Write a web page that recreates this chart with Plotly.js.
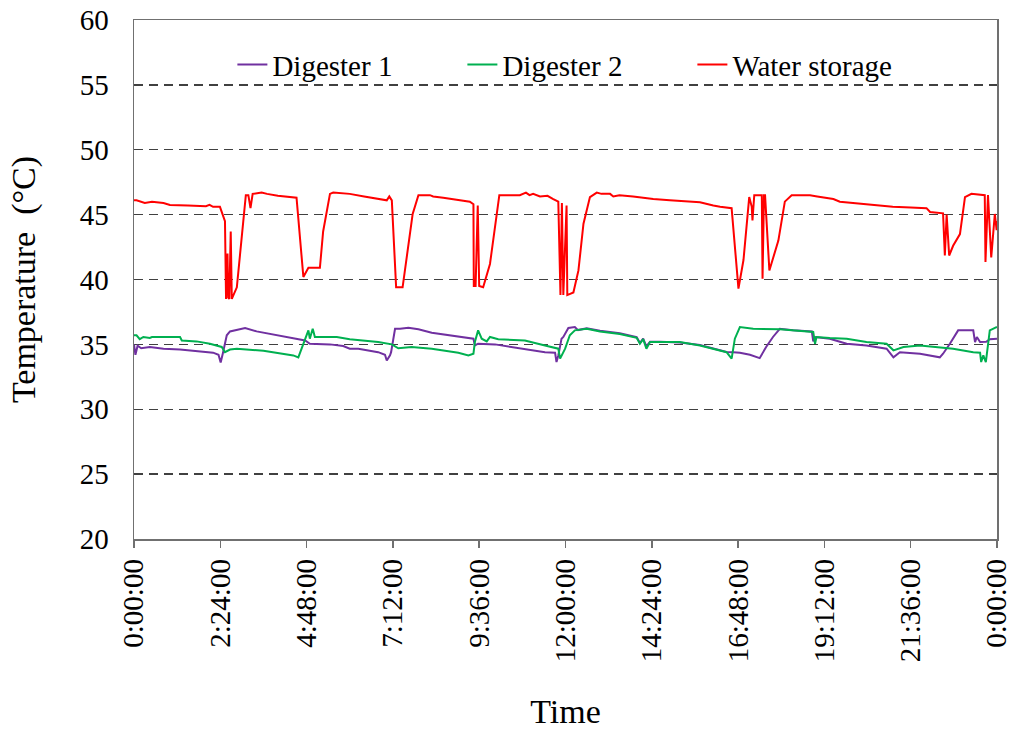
<!DOCTYPE html>
<html>
<head>
<meta charset="utf-8">
<script src="https://cdn.plot.ly/plotly-3.0.1.min.js"></script>
<style>html,body{margin:0;padding:0;background:#fff;}#chart{width:1012px;height:734px;}</style>
</head>
<body>
<div id="chart"></div>
<script>
// Time in hours since 0:00:00
var waterHours = [0,0.07,0.3,0.5,0.82,1.0,1.5,2.0,2.1,2.2,2.39,2.53,2.56,2.6,2.62,2.65,2.69,2.72,2.86,3.11,3.18,3.24,3.3,3.55,3.7,4.0,4.52,4.71,4.85,5.17,5.26,5.45,5.54,6.0,6.4,6.8,7.03,7.1,7.17,7.29,7.47,7.75,7.91,8.23,8.32,8.6,9.0,9.34,9.44,9.45,9.5,9.56,9.6,9.71,9.9,10.04,10.16,10.73,10.9,11.0,11.1,11.29,11.5,11.66,11.8,11.86,11.9,11.94,12.03,12.05,12.22,12.36,12.5,12.68,12.87,13.0,13.24,13.33,13.5,13.88,14.44,14.9,15.37,15.74,16.11,16.3,16.62,16.81,16.95,17.11,17.18,17.2,17.25,17.46,17.48,17.52,17.55,17.67,17.92,18.1,18.29,18.8,19.0,19.45,19.63,20.0,20.37,20.65,21.1,21.6,22.04,22.14,22.5,22.55,22.6,22.67,22.78,22.97,23.11,23.29,23.66,23.68,23.75,23.84,23.94,23.99,24];
var waterTemp  = [46.1,46.1,45.9,46.0,45.9,45.75,45.7,45.65,45.75,45.6,45.6,44.5,38.5,42.0,38.6,38.5,43.7,38.5,39.4,46.5,46.5,45.5,46.6,46.7,46.6,46.45,46.3,40.2,40.9,40.9,43.7,46.6,46.7,46.6,46.4,46.2,46.1,46.4,46.1,39.4,39.4,45.05,46.5,46.5,46.4,46.3,46.15,46.0,45.8,39.5,39.5,45.7,39.5,39.4,41.2,44.3,46.5,46.5,46.7,46.5,46.6,46.4,46.45,46.2,46.0,38.8,45.9,38.8,45.7,38.8,39.0,40.7,44.3,46.35,46.7,46.6,46.6,46.4,46.5,46.4,46.2,46.1,46.0,45.95,45.7,45.6,45.5,39.3,41.5,46.35,45.6,44.55,46.5,46.5,40.05,46.5,46.5,40.7,43.0,46.0,46.5,46.5,46.4,46.2,46.0,45.9,45.8,45.7,45.6,45.55,45.5,45.2,45.1,41.85,45.0,41.85,42.6,43.5,46.35,46.6,46.5,41.35,46.5,41.7,45.05,43.8,44.5];

var d1Hours = [0,0.04,0.1,0.2,0.44,0.82,1.28,1.74,2.2,2.35,2.41,2.47,2.58,2.67,2.95,3.09,3.41,3.78,4.15,4.62,4.76,4.89,5.45,5.82,6.0,6.24,6.79,6.98,7.03,7.12,7.15,7.26,7.4,7.63,7.91,8.28,8.65,9.02,9.3,9.44,9.48,9.57,10.04,10.5,10.87,11.43,11.71,11.75,11.8,11.89,11.94,12.08,12.26,12.35,12.59,12.96,13.51,13.98,14.07,14.16,14.25,14.35,14.63,15.18,15.74,16.3,16.48,16.67,16.85,17.13,17.4,17.58,17.77,17.96,18.33,18.85,18.89,18.94,19.35,19.82,20.37,20.93,21.12,21.3,21.86,22.41,22.5,22.69,22.92,23.34,23.39,23.44,23.53,23.7,23.8,24];
var d1Temp  = [35.0,34.2,34.9,34.7,34.8,34.67,34.6,34.5,34.36,34.2,33.6,34.3,35.7,36.0,36.16,36.26,36.0,35.8,35.64,35.4,35.3,35.05,35.0,34.87,34.67,34.67,34.4,34.2,33.76,34.15,34.4,36.2,36.2,36.29,36.16,35.9,35.75,35.57,35.44,35.44,34.92,35.05,35.0,34.8,34.67,34.4,34.36,33.64,34.15,35.44,35.57,36.26,36.34,36.1,36.25,36.05,35.85,35.55,35.1,35.45,34.85,35.2,35.2,35.15,34.95,34.56,34.42,34.4,34.36,34.2,33.94,34.8,35.57,36.2,36.08,36.0,35.23,35.57,35.44,35.05,34.92,34.67,34.0,34.4,34.28,34.0,34.28,35.05,36.08,36.08,35.18,35.57,35.18,35.2,35.4,35.44];

var d2Hours = [0,0.07,0.16,0.26,0.44,0.5,1.28,1.33,1.74,2.11,2.44,2.53,2.67,2.86,3.6,4.43,4.57,4.62,4.76,4.85,4.89,4.97,5.03,5.64,6.0,6.42,6.79,7.17,7.35,7.72,8.28,9.02,9.3,9.44,9.48,9.57,9.67,9.81,9.9,10.13,10.87,11.43,11.8,11.85,11.99,12.12,12.26,12.59,12.96,13.51,13.98,14.07,14.16,14.25,14.35,14.63,15.18,15.74,16.3,16.48,16.62,16.71,16.85,17.22,17.96,18.89,18.94,18.98,19.35,19.82,20.37,20.93,21.12,21.4,21.86,22.41,22.78,23.34,23.53,23.56,23.62,23.69,23.76,23.8,24];
var d2Temp  = [35.7,35.7,35.4,35.57,35.5,35.57,35.57,35.3,35.23,35.05,34.8,34.4,34.6,34.67,34.5,34.15,34.0,34.4,35.4,36.08,35.44,36.2,35.57,35.57,35.4,35.3,35.18,35.0,34.7,34.8,34.67,34.36,34.15,34.28,35.18,36.08,35.44,35.23,35.57,35.4,35.3,34.92,34.67,33.9,34.67,35.7,36.08,36.2,36.0,35.8,35.5,35.05,35.4,34.67,35.18,35.18,35.18,34.92,34.54,34.4,33.9,35.44,36.34,36.2,36.16,35.95,35.05,35.57,35.5,35.44,35.18,35.05,34.54,34.8,34.92,34.8,34.67,34.4,34.36,33.64,34.15,33.64,35.18,36.08,36.34];

var tickHours  = [0,2.4,4.8,7.2,9.6,12,14.4,16.8,19.2,21.6,24];
var tickLabels = ["0:00:00","2:24:00","4:48:00","7:12:00","9:36:00","12:00:00","14:24:00","16:48:00","19:12:00","21:36:00","0:00:00"];
var yTicks = [20,25,30,35,40,45,50,55,60];

var serif = "Liberation Serif, Times New Roman, serif";

var traces = [
  {x: d1Hours, y: d1Temp, name: "Digester 1", mode: "lines", line: {color: "#7030A0", width: 2}},
  {x: d2Hours, y: d2Temp, name: "Digester 2", mode: "lines", line: {color: "#00B050", width: 2}},
  {x: waterHours, y: waterTemp, name: "Water storage", mode: "lines", line: {color: "#FF0000", width: 2}}
];

var layout = {
  width: 1012, height: 734,
  margin: {l: 134, r: 15, t: 20, b: 195},
  paper_bgcolor: "#fff", plot_bgcolor: "#fff",
  font: {family: serif, color: "#000", size: 29},
  showlegend: true,
  legend: {
    orientation: "h", x: 0.114, xanchor: "left", y: 0.914, yanchor: "middle",
    font: {family: serif, size: 29, color: "#000"},
    bgcolor: "rgba(0,0,0,0)", entrywidth: 185, entrywidthmode: "pixels",
    traceorder: "normal"
  },
  xaxis: {
    range: [0, 24.0005], tickmode: "array", tickvals: tickHours, ticktext: tickLabels,
    tickangle: -90, ticks: "outside", ticklen: 7, tickwidth: 1.5, tickcolor: "#707070",
    showline: true, linecolor: "#707070", linewidth: 1.5, mirror: true,
    showgrid: false, zeroline: false, ticklabeloverflow: "allow",
    tickfont: {family: serif, size: 29, color: "#000"},
    title: {text: "Time", font: {family: serif, size: 34, color: "#000"}, standoff: 38},
    automargin: false
  },
  yaxis: {
    range: [20, 60], tickmode: "array", tickvals: yTicks,
    ticks: "", showline: true, linecolor: "#707070", linewidth: 1.5, mirror: true,
    showgrid: true, gridcolor: "#404040", gridwidth: 1.3, griddash: "9px,6px",
    zeroline: false, ticklabelstandoff: 18,
    tickfont: {family: serif, size: 29, color: "#000"},
    title: {text: "Temperature\u00a0\u00a0(°C)", font: {family: serif, size: 34, color: "#000"}, standoff: 34},
    automargin: false
  }
};

Plotly.newPlot("chart", traces, layout, {staticPlot: true, displayModeBar: false});
</script>
</body>
</html>
